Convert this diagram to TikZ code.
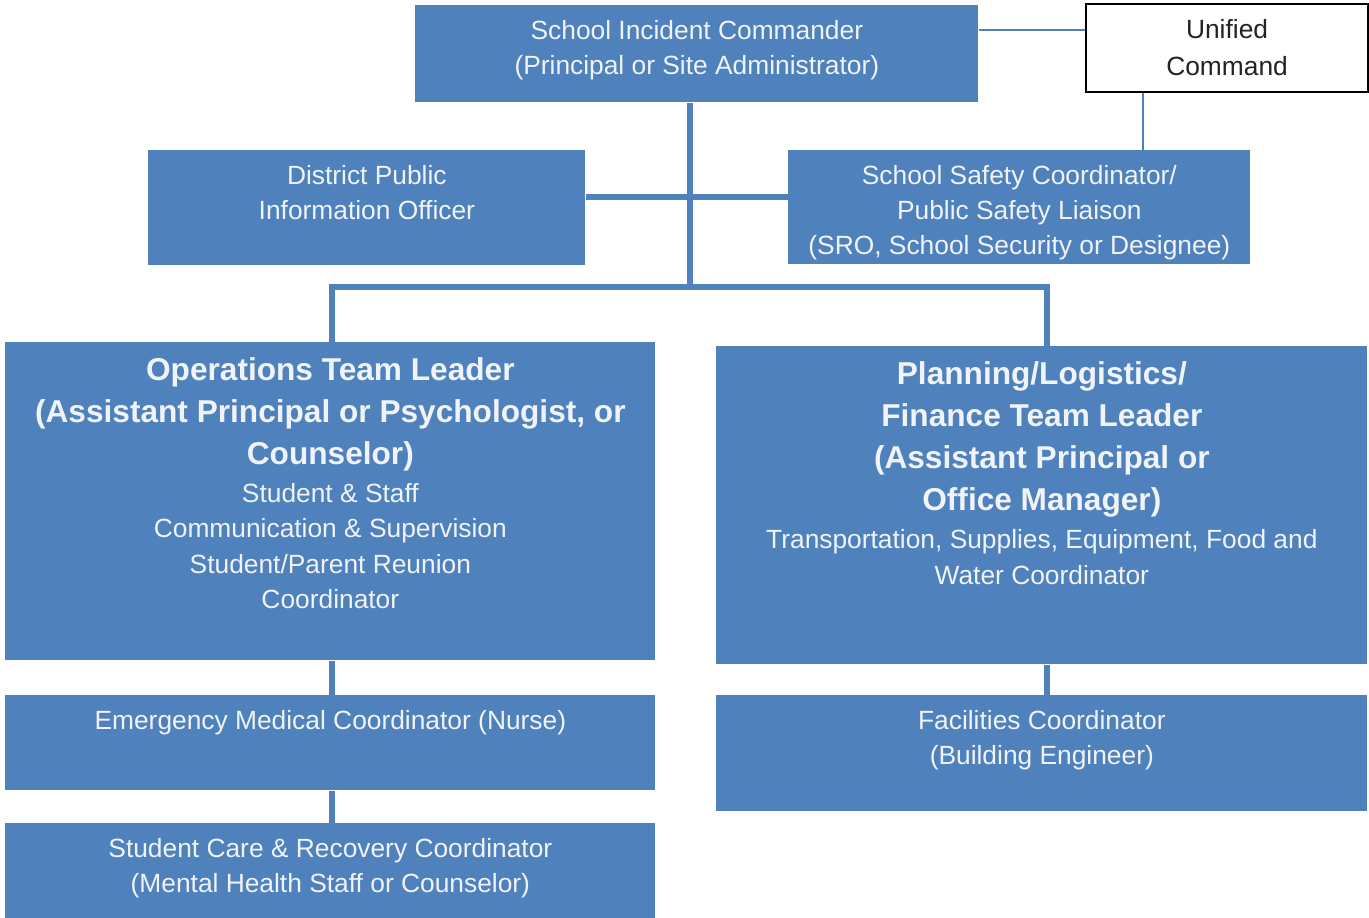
\documentclass[tikz,border=0pt]{standalone}
\usepackage{fontspec}
\setmainfont{Liberation Sans}
\definecolor{blu}{RGB}{79,129,189}
\definecolor{bianco}{RGB}{240,243,247}
\definecolor{grigio}{RGB}{35,35,35}
\newlength{\px}
\setlength{\px}{0.02cm}
\tikzstyle{org chart}=[
    unit box/.style={fill=blu,text=bianco,inner sep=0pt,anchor=north west,font={\fontsize{15}{20}\selectfont}},
    command box/.style={unit box,fill=white,draw=black,line width=1.2pt,text=grigio},
    link/.style={blu,line width=3.5pt},
    thin link/.style={blu,line width=1.2pt},
]
\newcommand{\boxtext}[3]{\parbox[c][#2\px][t]{#1\px}{\centering\vspace*{15\px}#3}}
\newcommand{\capo}[1]{{\fontsize{18}{24}\selectfont\bfseries #1\par}\vspace{3\px}}

\begin{document}
\begin{tikzpicture}[org chart,x=0.02cm,y=-0.02cm]
    \useasboundingbox (0,0) rectangle (1369,918);

    % top row
    \node[unit box] (sic) at (415,5) {\boxtext{563}{97}{School Incident Commander\\(Principal or Site Administrator)}};
    \node[command box] (uc) at (1085,3) {\boxtext{282}{88}{Unified\\[2\px]Command}};

    % staff
    \node[unit box] (pio) at (148,150) {\boxtext{437}{115}{District Public\\Information Officer}};
    \node[unit box] (ssc) at (788,150) {\boxtext{462}{114}{School Safety Coordinator/\\Public Safety Liaison\\(SRO, School Security or Designee)}};

    % team leaders
    \node[unit box] (ops) at (5,342) {\boxtext{650}{318}{\capo{Operations Team Leader\\(Assistant Principal or Psychologist, or\\Counselor)}Student \& Staff\\Communication \& Supervision\\Student/Parent Reunion\\Coordinator}};
    \node[unit box] (pl) at (716,346) {\boxtext{651}{318}{\capo{Planning/Logistics/\\Finance Team Leader\\(Assistant Principal or\\Office Manager)}Transportation, Supplies, Equipment, Food and\\Water Coordinator}};

    % coordinators
    \node[unit box] (emc) at (5,695) {\boxtext{650}{95}{Emergency Medical Coordinator (Nurse)}};
    \node[unit box] (scr) at (5,823) {\boxtext{650}{95}{Student Care \& Recovery Coordinator\\(Mental Health Staff or Counselor)}};
    \node[unit box] (fc) at (716,695) {\boxtext{651}{116}{Facilities Coordinator\\(Building Engineer)}};

    \coordinate (hub) at (690,287);
    \coordinate (side) at (690,197);
    \coordinate (ops link) at (332,0);
    \coordinate (pl link) at (1047,0);
    \coordinate (uc link) at (1143,30);

    \draw[link] (sic.south -| hub) -- (hub);
    \draw[link] (pio.east |- side) -- (ssc.west |- side);
    \draw[link] (ops.north -| ops link) |- (hub) -| (pl.north -| pl link);
    \draw[link] (ops.south -| ops link) -- (emc.north -| ops link);
    \draw[link] (emc.south -| ops link) -- (scr.north -| ops link);
    \draw[link] (pl.south -| pl link) -- (fc.north -| pl link);
    \draw[thin link] (sic.east |- uc link) -- (uc.west |- uc link);
    \draw[thin link] (uc.south -| uc link) -- (ssc.north -| uc link);

\end{tikzpicture}
\end{document}
